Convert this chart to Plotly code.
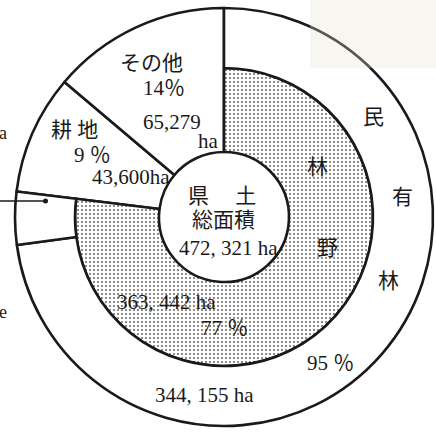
import plotly.graph_objects as go

W, H = 436, 432

# ---- data (listed clockwise from 12 o'clock) ----
land_labels = ["林野", "耕地", "その他"]
land_values = [363442, 43600, 65279]            # ha
forest_labels = ["民有林", "国有林", "耕地", "その他"]
forest_values = [344155, 19287, 43600, 65279]    # ha (国有林 = 363,442 - 344,155)
total_area = 472321

# ---- geometry (pixels) ----
CX, CY = 224, 217
R_OUT, R_MID, R_HOLE = 209, 149, 65

def dom(r):
    return dict(x=[(CX - r) / W, (CX + r) / W], y=[1 - (CY + r) / H, 1 - (CY - r) / H])

def px(x):
    return x / W

def py(y):
    return 1 - y / H

T = "rgba(0,0,0,0)"
LW = 2.6
INK = "#1a1a1a"
common = dict(sort=False, direction="clockwise", rotation=0,
              textinfo="none", hoverinfo="skip", showlegend=False)

fig = go.Figure()

# full-span slices (その他, 耕地): from hole to outer circle
fig.add_trace(go.Pie(
    labels=land_labels, values=land_values, hole=R_HOLE / R_OUT, domain=dom(R_OUT),
    marker=dict(colors=[T, "white", "white"],
                line=dict(color=INK, width=[0, LW, LW])),
    **common))

# inner forest (林野) dotted ring
fig.add_trace(go.Pie(
    labels=land_labels, values=land_values, hole=R_HOLE / R_MID, domain=dom(R_MID),
    marker=dict(colors=["white", T, T],
                line=dict(color=INK, width=[LW, 0, 0]),
                pattern=dict(shape=[".", "", ""], fgcolor="#666666", bgcolor="white",
                             size=4, solidity=0.2)),
    **common))

# outer forest ring (民有林 / 国有林)
fig.add_trace(go.Pie(
    labels=forest_labels, values=forest_values, hole=R_MID / R_OUT, domain=dom(R_OUT),
    marker=dict(colors=["white", "white", T, T],
                line=dict(color=INK, width=[LW, LW, 0, 0])),
    **common))

FONT = "Liberation Serif, Noto Sans CJK JP, serif"
FS = 21

def txt(s, x, y, size=FS):
    fig.add_annotation(text=s, x=px(x), y=py(y), xref="paper", yref="paper",
                       showarrow=False, xanchor="center", yanchor="middle",
                       font=dict(family=FONT, size=size, color=INK))

pct = lambda v, tot: round(v / tot * 100)
spaced = lambda v: f"{v:,}".replace(",", ", ")

# その他
txt("その他", 151, 63)
txt(f"{pct(land_values[2], total_area)}％", 164, 88)
txt(f"{land_values[2]:,}", 172, 122)
txt("ha", 208, 141)
# 耕地
txt("耕 地", 74, 130)
txt(f"{pct(land_values[1], total_area)} ％", 92, 155)
txt(f"{land_values[1]:,}ha", 131, 177)
# center
txt("県\u3000 土", 222, 196)
txt("総面積", 223, 220)
txt(spaced(total_area) + " ha", 228, 248)
# 林野
txt("林", 317, 167)
txt("野", 327, 248)
txt(spaced(land_values[0]) + " ha", 166, 302)
txt(f"{pct(land_values[0], total_area)} ％", 224, 328)
# 民有林
txt("民", 373, 117)
txt("有", 402, 197)
txt("林", 388, 281)
txt(f"{pct(forest_values[0], land_values[0])} ％", 330, 363)
txt(spaced(forest_values[0]) + " ha", 204, 395)

# truncated labels at the left edge
txt("a", 3, 133, 18)
txt("e", 3, 312, 18)

# leader arrow into the 国有林 box
fig.add_shape(type="line", x0=px(0), x1=px(45), y0=py(201), y1=py(201),
              xref="paper", yref="paper", line=dict(color=INK, width=1.5))
fig.add_shape(type="circle", x0=px(43), x1=px(48), y0=py(203.5), y1=py(198.5),
              xref="paper", yref="paper", fillcolor=INK, line=dict(width=0))

# paper smudge at the top right
fig.add_shape(type="rect", x0=px(310), x1=px(436), y0=py(68), y1=py(0),
              xref="paper", yref="paper", fillcolor="rgba(232,226,205,0.3)",
              line=dict(width=0), layer="above")

fig.update_layout(width=W, height=H, margin=dict(l=0, r=0, t=0, b=0),
                  paper_bgcolor="white", plot_bgcolor="white")

fig.write_html("out.html", config={"displayModeBar": False},
               post_script="document.body.style.margin='0';document.body.style.overflow='hidden';")
